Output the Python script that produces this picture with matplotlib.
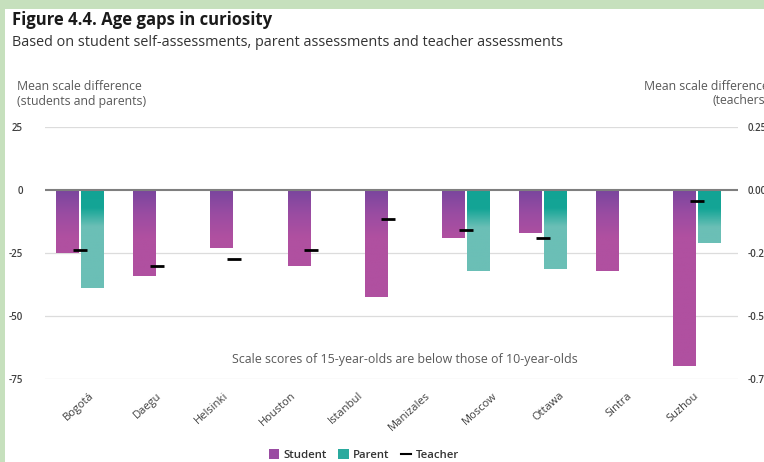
import numpy as np
import matplotlib.pyplot as plt
from matplotlib.patches import Patch, Rectangle
from matplotlib.lines import Line2D
from matplotlib.colors import LinearSegmentedColormap

plt.rcParams['font.family'] = ['Open Sans', 'DejaVu Sans']

# ---- data ----
cities = ["Bogotá", "Daegu", "Helsinki", "Houston", "Istanbul",
          "Manizales", "Moscow", "Ottawa", "Sintra", "Suzhou"]
student = [-25, -34, -23, -30, -42.3, np.nan, -19, -17, -32, -70]
parent = [-39, np.nan, np.nan, np.nan, np.nan, np.nan, -32, -31.5, np.nan, -21]
teacher = [-0.24, -0.30, -0.275, -0.24, -0.115, np.nan, -0.16, -0.19, np.nan, -0.045]
left_ticks = [25, 0, -25, -50, -75]
right_ticks = [0.25, 0.0, -0.25, -0.50, -0.75]

# cities that actually carry a bar group
has_data = [not (np.isnan(s) and np.isnan(p)) for s, p in zip(student, parent)]
grp_student = [s for s, h in zip(student, has_data) if h]
grp_parent = [p for p, h in zip(parent, has_data) if h]
grp_teacher = [t for t, h in zip(teacher, has_data) if h]
pos = np.arange(len(grp_student))

W, H = 764, 462
fig = plt.figure(figsize=(W / 100, H / 100), dpi=100, facecolor="#c6e0bd")
fig.patches.append(Rectangle((5 / W, 0), 1, 1 - 9 / H, transform=fig.transFigure,
                             facecolor="white", edgecolor="none", zorder=-5))

ax = fig.add_axes([45 / W, 1 - 379 / H, 693 / W, 252 / H])
ax.set_facecolor("none")

bw = 0.29
off = 0.162
stud_cmap = LinearSegmentedColormap.from_list("st", ["#7a469e", "#9a4ca2", "#b050a0", "#b050a0"])
par_cmap = LinearSegmentedColormap.from_list("pa", ["#12a394", "#14a596", "#6bbfb6", "#6bbfb6"])


def grad_bars(xs, vals, cmap, depth):
    bars = ax.bar(xs, vals, width=bw, color="none", edgecolor="none", zorder=2)
    yy = np.linspace(0, -75, 300)
    g = np.clip(-yy / depth, 0, 1)[:, None]
    for b in bars:
        if np.isnan(b.get_height()):
            continue
        x0 = b.get_x()
        im = ax.imshow(g, cmap=cmap, vmin=0, vmax=1, aspect="auto",
                       extent=[x0, x0 + b.get_width(), -75, 0], origin="upper", zorder=2)
        im.set_clip_path(b)


grad_bars(pos - off, grp_student, stud_cmap, 28)
grad_bars(pos + off, grp_parent, par_cmap, 22)

ax.set_xlim(-0.45, len(pos) - 1 + 0.53)
ax.set_ylim(-75, 25)
ax.set_yticks(left_ticks)
ax.set_yticklabels([str(v) for v in left_ticks], fontweight="semibold")
for v in left_ticks:
    if v == 0:
        ax.axhline(0, color="#7f7f7f", lw=1.5, zorder=3)
    else:
        ax.axhline(v, color="#dcdcdc", lw=0.9, zorder=1)
ax.tick_params(axis="y", length=0, pad=16, labelsize=7, labelcolor="#404040")
ax.set_xticks([])
for s in ax.spines.values():
    s.set_visible(False)

ax.text(0.519, 0.079, "Scale scores of 15-year-olds are below those of 10-year-olds",
        transform=ax.transAxes, ha="center", va="center", fontsize=8.9, color="#595959")

# right axis for teachers
ax2 = ax.twinx()
ax2.set_ylim(-0.75, 0.25)
ax2.set_yticks(right_ticks)
ax2.set_yticklabels(["%.2f" % v for v in right_ticks], fontweight="semibold")
ax2.tick_params(axis="y", length=0, pad=7, labelsize=7, labelcolor="#404040")
ax2.plot(pos, grp_teacher, linestyle="none", marker="_", markersize=10.5,
         markeredgewidth=2, color="black", zorder=4)
for s in ax2.spines.values():
    s.set_visible(False)

# category labels
ax3 = ax.twiny()
ax3.set_xlim(-0.655, 9.657)
ax3.xaxis.set_ticks_position("bottom")
ax3.set_xticks(np.arange(len(cities)))
ax3.set_xticklabels(cities, rotation=42, ha="right", rotation_mode="anchor")
ax3.tick_params(axis="x", length=0, pad=8, labelsize=8, labelcolor="#404040")
for s in ax3.spines.values():
    s.set_visible(False)

fig.text(12 / W, 1 - 20 / H, "Figure 4.4. Age gaps in curiosity", fontsize=12,
         fontweight="bold", color="#1a1a1a", va="center")
fig.text(12 / W, 1 - 43 / H,
         "Based on student self-assessments, parent assessments and teacher assessments",
         fontsize=10.4, color="#333333", va="center")
fig.text(17 / W, 1 - 94 / H, "Mean scale difference\n(students and parents)",
         fontsize=8.8, color="#595959", va="center", linespacing=1.1)
fig.text(769 / W, 1 - 94 / H, "Mean scale difference\n(teachers)", fontsize=8.8,
         color="#595959", va="center", ha="right", multialignment="right", linespacing=1.1)

handles = [Patch(facecolor="#9a4ca2", label="Student"),
           Patch(facecolor="#2aaa9e", label="Parent"),
           Line2D([], [], color="black", lw=1.5, label="Teacher")]
fig.legend(handles=handles, loc="center", bbox_to_anchor=(364 / W, 1 - 455 / H), ncol=3,
           frameon=False, handlelength=0.9, handleheight=0.9,
           handletextpad=0.4, columnspacing=1.0, labelcolor="#333333",
           prop={"size": 8.2, "weight": "semibold"})

fig.savefig("out.png", dpi=100, facecolor=fig.get_facecolor())
